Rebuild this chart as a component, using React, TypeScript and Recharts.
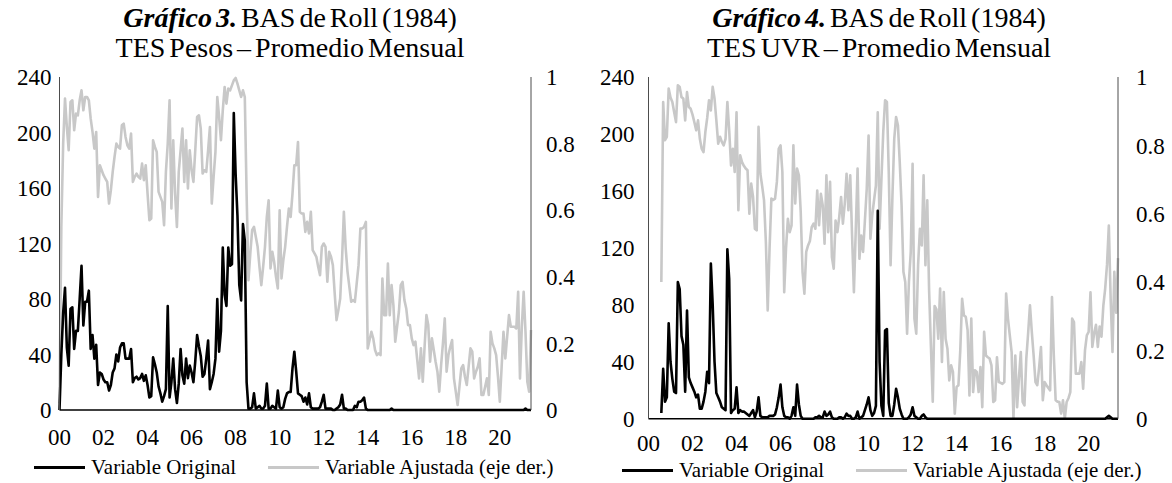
import { LineChart, Line, XAxis, YAxis } from 'recharts'

const FONT = '"Liberation Serif", "Times New Roman", serif'
const BLACK = '#000000'
const GRAY = '#c8c8c8'
const BORDER = '#4d4d4d'

// Monthly averages. Pesos series start in Jan 2000, UVR series in Aug 2000.
const PESOS_START = 0
const UVR_START = 7

const YEAR_TICKS = [2000, 2002, 2004, 2006, 2008, 2010, 2012, 2014, 2016, 2018, 2020]
const LEFT_TICKS = [0, 40, 80, 120, 160, 200, 240]
const RIGHT_TICKS = [0, 0.2, 0.4, 0.6, 0.8, 1]

// TES Pesos – variable original (left axis)
const pesosOriginal = [
  0, 40, 70, 88, 45, 32, 73, 74, 44, 57, 57, 80,
  104, 61, 78, 78, 86, 44, 54, 37, 47, 18, 27, 26,
  22, 20, 20, 14, 18, 27, 30, 40, 35, 45, 48, 48,
  37, 37, 37, 44, 20, 23, 24, 22, 23, 26, 21, 25,
  18, 9, 10, 38, 33, 27, 17, 12, 6, 10, 15, 75,
  9, 20, 37, 15, 5, 19, 44, 25, 19, 37, 23, 32,
  27, 20, 35, 54, 46, 39, 24, 26, 37, 50, 15, 20,
  26, 37, 80, 42, 57, 117, 83, 75, 117, 104, 105, 214,
  170, 140, 90, 79, 134, 122, 20, 1, 1, 2, 12, 1,
  2, 3, 1, 1, 3, 19, 1, 1, 3, 2, 1, 14,
  2, 1, 2, 8, 12, 13, 13, 30, 42, 28, 12, 11,
  10, 6, 9, 4, 12, 2, 1, 1, 1, 1, 2, 6,
  11, 1, 1, 1, 1, 0, 0, 1, 2, 4, 11, 1,
  1, 0, 0, 0, 0, 3, 2, 6, 6, 7, 9, 1,
  0, 0, 0, 0, 0, 0, 0, 0, 0, 0, 0, 0,
  0, 1, 0, 0, 0, 0, 0, 0, 0, 0, 0, 0,
  0, 0, 0, 0, 0, 0, 0, 0, 0, 0, 0, 0,
  0, 0, 0, 0, 0, 0, 0, 0, 0, 0, 0, 0,
  0, 0, 0, 0, 0, 0, 0, 0, 0, 0, 0, 0,
  0, 0, 0, 0, 0, 0, 0, 0, 0, 0, 0, 0,
  0, 0, 0, 0, 0, 0, 0, 0, 0, 0, 0, 0,
  0, 0, 1, 0, 0, 0,
]

// TES Pesos – variable ajustada (right axis)
const pesosAjustada = [
  0.02, 0.55, 0.8, 0.935, 0.85, 0.78, 0.925, 0.93, 0.84, 0.89, 0.885, 0.93,
  0.96, 0.9, 0.94, 0.94, 0.93, 0.875, 0.835, 0.785, 0.835, 0.64, 0.735, 0.72,
  0.705, 0.695, 0.685, 0.62, 0.66, 0.715, 0.76, 0.8, 0.79, 0.785, 0.855, 0.86,
  0.82, 0.795, 0.785, 0.83, 0.685, 0.7, 0.71, 0.7, 0.695, 0.74, 0.69, 0.735,
  0.65, 0.57, 0.575, 0.81, 0.79, 0.775, 0.655, 0.64, 0.625, 0.555, 0.715, 0.8,
  0.93, 0.605, 0.81, 0.65, 0.55, 0.715, 0.78, 0.845, 0.685, 0.81, 0.665, 0.78,
  0.72, 0.685, 0.78, 0.88, 0.885, 0.845, 0.71, 0.72, 0.715, 0.78, 0.85, 0.62,
  0.7, 0.775, 0.94, 0.88, 0.81, 0.9, 0.97, 0.92, 0.965, 0.96, 0.975, 0.99,
  0.997, 0.98, 0.96, 0.94, 0.96, 0.94, 0.645, 0.39, 0.47, 0.54, 0.55, 0.52,
  0.49, 0.43, 0.375, 0.43, 0.49, 0.58, 0.63, 0.425, 0.475, 0.445, 0.4, 0.365,
  0.6, 0.395, 0.45, 0.49, 0.55, 0.605, 0.58, 0.65, 0.735, 0.735, 0.805, 0.595,
  0.59, 0.59, 0.535, 0.565, 0.53, 0.595, 0.48, 0.47, 0.46, 0.43, 0.405, 0.49,
  0.5, 0.49, 0.385, 0.475, 0.46, 0.435, 0.35, 0.27, 0.3, 0.335, 0.45, 0.595,
  0.485, 0.415, 0.37, 0.325, 0.33, 0.325, 0.38, 0.435, 0.545, 0.545, 0.55, 0.565,
  0.185, 0.21, 0.235, 0.215, 0.18, 0.165, 0.17, 0.165, 0.395, 0.285, 0.285, 0.44,
  0.285, 0.375, 0.315, 0.205, 0.25, 0.295, 0.375, 0.385, 0.33, 0.305, 0.255, 0.255,
  0.215, 0.195, 0.205, 0.15, 0.095, 0.185, 0.085, 0.19, 0.285, 0.255, 0.145, 0.215,
  0.18, 0.145, 0.115, 0.055, 0.135, 0.2, 0.275, 0.115, 0.165, 0.19, 0.21, 0.095,
  0.055, 0.015, 0.07, 0.125, 0.135, 0.1, 0.075, 0.13, 0.185, 0.175, 0.095, 0.115,
  0.13, 0.155, 0.045, 0.045, 0.07, 0.095, 0.045, 0.235, 0.2, 0.185, 0.165, 0.1,
  0.025, 0.13, 0.235, 0.155, 0.22, 0.285, 0.25, 0.25, 0.25, 0.245, 0.355, 0.095,
  0.25, 0.355, 0.235, 0.085, 0.055, 0.24,
]

// TES UVR – variable original (left axis)
const uvrOriginal = [
  4, 35, 12, 15, 67,
  40, 28, 19, 18, 96, 91, 58, 52, 19, 76, 29, 25,
  22, 19, 15, 17, 7, 7, 12, 19, 33, 25, 109, 80,
  40, 18, 15, 12, 8, 7, 6, 119, 98, 4, 6, 7,
  22, 4, 6, 5, 5, 4, 3, 2, 4, 6, 1, 5,
  15, 2, 1, 1, 1, 1, 2, 2, 2, 3, 8, 15,
  24, 8, 2, 1, 1, 0, 2, 8, 2, 24, 10, 2,
  0, 0, 0, 0, 0, 0, 0, 1, 1, 2, 1, 1,
  5, 2, 3, 5, 1, 0, 0, 0, 1, 1, 0, 1,
  3.5, 2, 2, 0, 0, 1, 5, 0, 1, 2, 6, 10,
  15, 6, 2, 4, 9, 146, 40, 9, 2, 62, 63, 11,
  2, 2, 10, 21, 15, 7, 3, 0, 0, 0, 1, 3,
  8, 2, 1, 0, 0, 2, 3, 1, 0, 0, 0, 0,
  0, 0, 0, 0, 0, 0, 0, 0, 0, 0, 0, 0,
  0, 0, 0, 0, 0, 0, 0, 0, 0, 0, 0, 0,
  0, 0, 0, 0, 0, 0, 0, 0, 0, 0, 0, 0,
  0, 0, 0, 0, 0, 0, 0, 0, 0, 0, 0, 0,
  0, 0, 0, 0, 0, 0, 0, 0, 0, 0, 0, 0,
  0, 0, 0, 0, 0, 0, 0, 0, 0, 0, 0, 0,
  0, 0, 0, 0, 0, 0, 0, 0, 0, 0, 0, 0,
  0, 0, 0, 0, 0, 0, 0, 0, 0, 0, 1, 2,
  1, 0, 0, 0, 0,
]

// TES UVR – variable ajustada (right axis)
const uvrAjustada = [
  0.4, 0.927, 0.815, 0.825, 0.966,
  0.94, 0.927, 0.897, 0.868, 0.976, 0.971, 0.941, 0.937, 0.873, 0.956, 0.912, 0.907,
  0.89, 0.868, 0.844, 0.873, 0.819, 0.79, 0.78, 0.839, 0.88, 0.932, 0.902, 0.971,
  0.937, 0.873, 0.805, 0.825, 0.81, 0.8, 0.819, 0.927, 0.844, 0.741, 0.79, 0.722,
  0.897, 0.61, 0.771, 0.751, 0.74, 0.732, 0.727, 0.6, 0.688, 0.649, 0.556, 0.551,
  0.854, 0.717, 0.68, 0.639, 0.517, 0.317, 0.497, 0.644, 0.64, 0.644, 0.693, 0.79,
  0.8, 0.722, 0.37, 0.5, 0.585, 0.546, 0.566, 0.8, 0.63, 0.732, 0.712, 0.605,
  0.43, 0.366, 0.488, 0.507, 0.52, 0.561, 0.571, 0.556, 0.668, 0.566, 0.658, 0.624,
  0.512, 0.712, 0.546, 0.693, 0.473, 0.439, 0.58, 0.546, 0.59, 0.649, 0.571, 0.629,
  0.717, 0.61, 0.712, 0.536, 0.37, 0.55, 0.732, 0.468, 0.536, 0.488, 0.58, 0.673,
  0.829, 0.527, 0.595, 0.64, 0.683, 0.897, 0.556, 0.7, 0.839, 0.932, 0.927, 0.722,
  0.449, 0.65, 0.819, 0.883, 0.859, 0.75, 0.624, 0.43, 0.4, 0.249, 0.4, 0.488,
  0.746, 0.293, 0.249, 0.45, 0.556, 0.507, 0.712, 0.449, 0.639, 0.376, 0.21, 0.05,
  0.33, 0.32, 0.234, 0.381, 0.166, 0.371, 0.234, 0.205, 0.112, 0.156, 0.137, 0.015,
  0.093, 0.098, 0.2, 0.351, 0.302, 0.298, 0.259, 0.068, 0.293, 0.078, 0.142, 0.137,
  0.078, 0.151, 0.034, 0.254, 0.185, 0.18, 0.176, 0.156, 0.049, 0.054, 0.18, 0.107,
  0.105, 0.102, 0.107, 0.366, 0.293, 0.244, 0.195, 0, 0.185, 0.034, 0.12, 0.195,
  0.049, 0.039, 0.176, 0.25, 0.332, 0.254, 0.185, 0.107, 0.098, 0.15, 0.21, 0.054,
  0.107, 0.098, 0.09, 0.083, 0.356, 0.185, 0.054, 0.05, 0.049, 0.015, 0.054, 0,
  0.049, 0.06, 0.078, 0.293, 0.283, 0.132, 0.132, 0.132, 0.166, 0.088, 0.2, 0.244,
  0.254, 0.37, 0.21, 0.25, 0.275, 0.21, 0.27, 0.24, 0.33, 0.38, 0.45, 0.565,
  0.35, 0.195, 0.43, 0.31, 0.47,
]

function toRows(start: number, original: number[], ajustada: number[]) {
  return original.map((v, i) => ({
    t: 2000 + (start + i) / 12,
    original: v,
    ajustada: ajustada[i],
  }))
}

const yearLabel = (v: number) => String(Math.round(v) % 100).padStart(2, '0')
const ratioLabel = (v: number) => (v === 0 ? '0' : v === 1 ? '1' : v.toFixed(1))

interface PanelProps {
  x: number
  width: number
  plotLeft: number
  plotRight: number
  plotTop: number
  plotBottom: number
  leftGap: number
  rightGap: number
  xGap: number
  figure: string
  subtitle: string
  titleX: number
  legendY: number
  legendOriginal: number
  legendAjustada: number
  rows: { t: number; original: number; ajustada: number }[]
}

const H = 483
const tickStyle = { fill: '#000', fontSize: 23, fontFamily: FONT }

function Panel(p: PanelProps) {
  const axisLine = { stroke: BORDER, strokeWidth: 1 }
  return (
    <div style={{ position: 'absolute', left: p.x, top: 0, width: p.width, height: H }}>
      <div
        style={{
          position: 'absolute', left: p.titleX - 250, top: 3, width: 500, textAlign: 'center',
          fontFamily: FONT, fontSize: 28, lineHeight: '30px', color: '#000', wordSpacing: -3,
        }}
      >
        <span style={{ fontWeight: 'bold', fontStyle: 'italic' }}>{p.figure}</span> BAS de Roll (1984)
        <br />
        {p.subtitle}
      </div>
      <LineChart
        width={p.width}
        height={H}
        data={p.rows}
        margin={{ top: p.plotTop, right: 0, bottom: 0, left: 0 }}
        style={{ position: 'absolute', left: 0, top: 0 }}
      >
        <XAxis
          xAxisId="top"
          orientation="top"
          type="number"
          dataKey="t"
          domain={[2000, 'dataMax']}
          height={0}
          tick={false}
          tickLine={false}
          axisLine={axisLine}
        />
        <XAxis
          xAxisId="bottom"
          type="number"
          dataKey="t"
          domain={[2000, 'dataMax']}
          ticks={YEAR_TICKS}
          tickFormatter={yearLabel}
          height={H - p.plotBottom}
          tickLine={false}
          tickSize={0}
          tickMargin={p.xGap}
          tick={tickStyle}
          axisLine={{ stroke: BLACK, strokeWidth: 1.5 }}
          interval={0}
        />
        <YAxis
          yAxisId="left"
          domain={[0, 240]}
          ticks={LEFT_TICKS}
          width={p.plotLeft - p.x}
          tickLine={false}
          tickSize={0}
          tickMargin={p.leftGap}
          tick={tickStyle}
          axisLine={axisLine}
          interval={0}
        />
        <YAxis
          yAxisId="right"
          orientation="right"
          domain={[0, 1]}
          ticks={RIGHT_TICKS}
          tickFormatter={ratioLabel}
          width={p.x + p.width - p.plotRight}
          tickLine={false}
          tickSize={0}
          tickMargin={p.rightGap}
          tick={{ ...tickStyle, textAnchor: 'start' }}
          axisLine={axisLine}
          interval={0}
        />
        <Line
          xAxisId="bottom"
          yAxisId="right"
          dataKey="ajustada"
          stroke={GRAY}
          strokeWidth={2.6}
          strokeLinejoin="round"
          dot={false}
          activeDot={false}
          isAnimationActive={false}
        />
        <Line
          xAxisId="bottom"
          yAxisId="left"
          dataKey="original"
          stroke={BLACK}
          strokeWidth={2.6}
          strokeLinejoin="round"
          dot={false}
          activeDot={false}
          isAnimationActive={false}
        />
      </LineChart>
      <LegendItem x={p.legendOriginal - p.x} y={p.legendY} color={BLACK} label="Variable Original" />
      <LegendItem x={p.legendAjustada - p.x} y={p.legendY} color={GRAY} label="Variable Ajustada (eje der.)" />
    </div>
  )
}

function LegendItem({ x, y, color, label }: { x: number; y: number; color: string; label: string }) {
  return (
    <div
      style={{
        position: 'absolute', left: x, top: y - 12, height: 24, display: 'flex', alignItems: 'center',
        fontFamily: FONT, fontSize: 21, lineHeight: '22px', color: '#000', whiteSpace: 'nowrap',
      }}
    >
      <div style={{ width: 51, height: 3, background: color, marginRight: 6 }} />
      <span>{label}</span>
    </div>
  )
}

export default function App() {
  const pesosRows = toRows(PESOS_START, pesosOriginal, pesosAjustada)
  const uvrRows = toRows(UVR_START, uvrOriginal, uvrAjustada)
  return (
    <div style={{ position: 'absolute', left: 0, top: 0, width: 1172, height: H, background: '#fff' }}>
      <Panel
        x={0}
        width={590}
        plotLeft={59.5}
        plotRight={531}
        plotTop={77}
        plotBottom={410}
        leftGap={8}
        rightGap={15}
        xGap={19}
        figure="Gráfico 3."
        subtitle="TES Pesos – Promedio Mensual"
        titleX={290}
        legendY={467}
        legendOriginal={34}
        legendAjustada={268}
        rows={pesosRows}
      />
      <Panel
        x={590}
        width={582}
        plotLeft={648.5}
        plotRight={1118}
        plotTop={77}
        plotBottom={418.7}
        leftGap={14}
        rightGap={18}
        xGap={16}
        figure="Gráfico 4."
        subtitle="TES UVR – Promedio Mensual"
        titleX={879 - 590}
        legendY={470}
        legendOriginal={622}
        legendAjustada={856}
        rows={uvrRows}
      />
    </div>
  )
}
